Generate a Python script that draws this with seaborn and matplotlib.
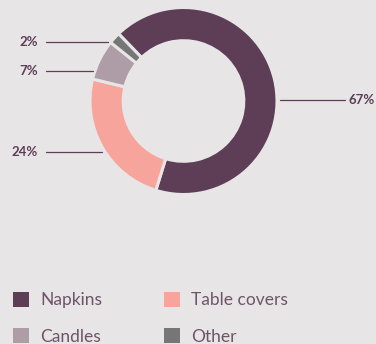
import matplotlib
matplotlib.use("Agg")
import matplotlib.pyplot as plt
import seaborn as sns
import numpy as np

categories = ["Napkins", "Table covers", "Candles", "Other"]
values = [67, 24, 7, 2]
pct_labels = ["67%", "24%", "7%", "2%"]
colors = ["#5e3d56", "#f7a59c", "#ae9ca6", "#767676"]

BG = "#e8e5e6"
sns.set_style("white")
plt.rcParams["font.family"] = ["Lato", "DejaVu Sans"]

W, H = 376, 344
fig = plt.figure(figsize=(W / 100, H / 100), dpi=100, facecolor=BG)
ax = fig.add_axes([0, 0, 1, 1])
ax.set_facecolor(BG)

cx, cy, R = 183.5, 243.0, 93.5  # pixel centre (from bottom) and radius

wedges, _ = ax.pie(values, colors=colors, startangle=134, counterclock=False,
                   radius=1.0, wedgeprops=dict(width=0.355, edgecolor=BG, linewidth=2.2))
ax.set_xlim((0 - cx) / R, (W - cx) / R)
ax.set_ylim((0 - cy) / R, (H - cy) / R)
ax.set_aspect("equal", adjustable="box")
ax.axis("off")

def px(x, y_top):
    return (x - cx) / R, ((H - y_top) - cy) / R

# label positions (pixel, from top): (text x, text y, line x0, line x1, ha)
lab_pos = {
    "67%": (375, 100, 280, 345, "right"),
    "24%": (38, 152, 46, 102, "right"),
    "7%": (38, 71, 46, 93, "right"),
    "2%": (38, 42, 46, 108, "right"),
}
lc = "#5e3d56"
for lab in pct_labels:
    tx, ty, x0, x1, ha = lab_pos[lab]
    a0 = px(x0, ty)
    a1 = px(x1, ty)
    ax.plot([a0[0], a1[0]], [a0[1], a1[1]], color=lc, lw=0.9)
    t = px(tx, ty)
    ax.text(t[0], t[1], lab, ha=ha, va="center", fontsize=9.5,
            fontweight="bold", color=lc)

order = [0, 2, 1, 3]  # row-major fill for a 2-column legend
leg = fig.legend([wedges[i] for i in order], [categories[i] for i in order],
                 loc="upper left",
                 bbox_to_anchor=(13 / W, 1 - 292 / H), ncol=2, frameon=False,
                 fontsize=12.5, handlelength=0.92, handleheight=0.92,
                 handletextpad=0.63, columnspacing=3.6, labelspacing=1.15,
                 borderaxespad=0, borderpad=0)
for t in leg.get_texts():
    t.set_color("#6e5468")
for h in leg.legend_handles:
    h.set_edgecolor("none")

fig.savefig("out.png", dpi=100, facecolor=BG)
